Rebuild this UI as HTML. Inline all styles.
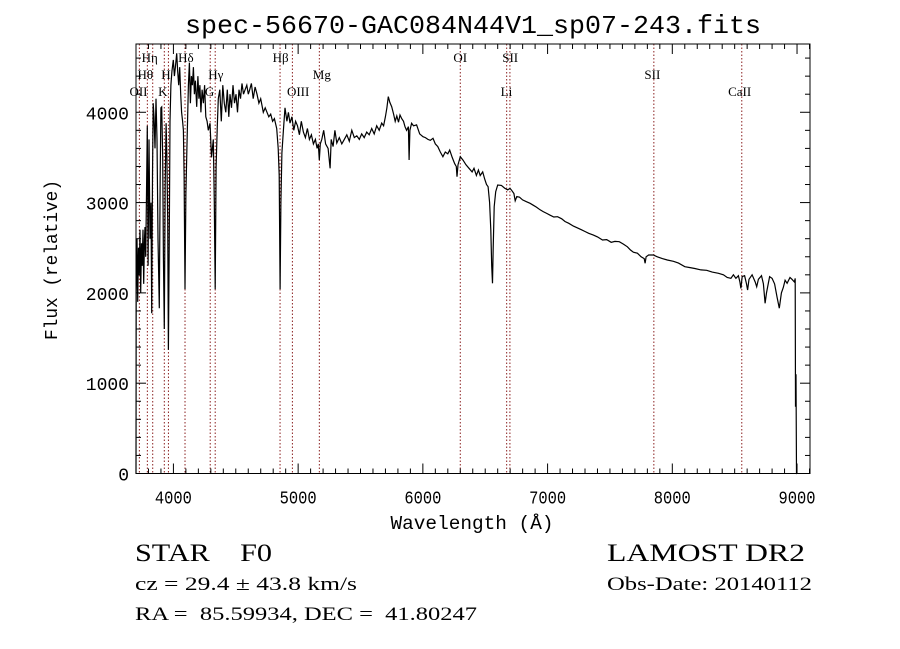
<!DOCTYPE html>
<html><head><meta charset="utf-8"><style>
body{margin:0;background:#fff;width:900px;height:649px;overflow:hidden}
svg{display:block}
</style></head><body>
<svg id="chart" width="900" height="649" xmlns="http://www.w3.org/2000/svg">
<text x="473" y="33" text-anchor="middle" font-family="Liberation Mono, monospace" font-size="26" textLength="576" lengthAdjust="spacingAndGlyphs">spec-56670-GAC084N44V1_sp07-243.fits</text>
<text x="472" y="529" text-anchor="middle" font-family="Liberation Mono, monospace" font-size="19" textLength="163" lengthAdjust="spacingAndGlyphs">Wavelength (Å)</text>
<text transform="translate(57,260) rotate(-90)" text-anchor="middle" font-family="Liberation Mono, monospace" font-size="18" textLength="160" lengthAdjust="spacingAndGlyphs">Flux (relative)</text>
<text x="135" y="561" font-family="Liberation Serif, serif" font-size="25" textLength="137" lengthAdjust="spacingAndGlyphs">STAR&#160;&#160;&#160;&#160;F0</text>
<text x="607" y="561" font-family="Liberation Serif, serif" font-size="25" textLength="198" lengthAdjust="spacingAndGlyphs">LAMOST DR2</text>
<text x="135" y="590" font-family="Liberation Serif, serif" font-size="19" textLength="222" lengthAdjust="spacingAndGlyphs">cz = 29.4 ± 43.8 km/s</text>
<text x="607" y="590" font-family="Liberation Serif, serif" font-size="19" textLength="205" lengthAdjust="spacingAndGlyphs">Obs-Date: 20140112</text>
<text x="135" y="620" font-family="Liberation Serif, serif" font-size="19" textLength="342" lengthAdjust="spacingAndGlyphs">RA =&#160;&#160;85.59934, DEC =&#160;&#160;41.80247</text>
<g id="plot"></g>
</svg>
<script>
const xTicks=[4000,5000,6000,7000,8000,9000];
const yTicks=[0,1000,2000,3000,4000];
const spectrum=[
[3700,0],[3702,2000],[3708,2600],[3714,1900],[3720,2500],[3726,2200],[3732,2700],[3738,2000],[3744,2550],[3750,2300],
[3756,2700],[3762,2100],[3768,2600],[3772,2730],[3778,2400],[3784,3100],[3791,3850],[3797,2300],[3804,3700],[3812,2600],
[3820,3000],[3826,1775],[3832,3300],[3838,4100],[3844,3950],[3852,3600],[3860,4150],[3868,3700],[3876,2600],[3887,1830],
[3894,3300],[3900,4050],[3906,4060],[3914,3500],[3920,2400],[3927,1600],[3934,3200],[3941,3880],[3948,3500],[3954,2800],
[3960,1370],[3966,2500],[3973,3900],[3980,4300],[3988,4450],[3999,4580],[4008,4400],[4016,4500],[4026,4653],[4034,4450],
[4042,4300],[4050,4500],[4058,4200],[4066,4000],[4074,3900],[4080,3800],[4086,3300],[4093,2040],[4100,3100],[4108,3600],
[4120,4300],[4128,4550],[4136,4100],[4144,4400],[4152,4300],[4160,4500],[4168,4200],[4176,4350],[4187,4060],[4196,4400],
[4204,4150],[4212,4300],[4220,4000],[4230,4250],[4240,4100],[4250,4300],[4260,3950],[4270,3900],[4280,3800],[4293,3878],
[4305,3500],[4320,3700],[4328,3000],[4335,2040],[4342,3400],[4352,3850],[4360,4150],[4372,4250],[4384,3900],[4396,4300],
[4408,4100],[4420,4000],[4432,4250],[4444,3950],[4454,4200],[4466,4050],[4478,4300],[4490,4100],[4502,4200],[4514,4000],
[4526,4250],[4538,4150],[4550,4320],[4562,4200],[4575,4250],[4588,4300],[4600,4200],[4612,4250],[4625,4320],[4640,4150],
[4655,4280],[4670,4200],[4685,4100],[4700,4150],[4721,4000],[4736,4050],[4750,4000],[4765,3950],[4780,3980],[4795,3900],
[4810,3930],[4828,3820],[4840,3600],[4848,3300],[4855,2040],[4862,3000],[4870,3550],[4882,3800],[4895,4050],[4910,3900],
[4922,4000],[4935,3880],[4950,3950],[4965,3800],[4980,3900],[4995,3850],[5010,3750],[5025,3900],[5042,3780],[5058,3720],
[5074,3820],[5090,3700],[5106,3750],[5122,3650],[5138,3700],[5152,3600],[5162,3650],[5170,3472],[5178,3650],[5190,3700],
[5205,3800],[5220,3650],[5240,3600],[5256,3380],[5265,3700],[5280,3620],[5295,3800],[5310,3660],[5330,3720],[5350,3650],
[5370,3700],[5390,3750],[5410,3680],[5430,3800],[5450,3720],[5470,3740],[5490,3700],[5510,3760],[5530,3720],[5550,3780],
[5570,3750],[5590,3820],[5610,3760],[5630,3850],[5650,3800],[5670,3880],[5685,3850],[5700,3950],[5712,4050],[5723,4173],
[5735,4110],[5750,4062],[5765,3980],[5778,3900],[5791,3960],[5805,3890],[5817,3970],[5830,3930],[5845,3900],[5857,3840],
[5870,3800],[5884,3840],[5890,3472],[5896,3800],[5910,3878],[5925,3850],[5950,3860],[5975,3760],[6001,3730],[6020,3720],
[6040,3700],[6060,3690],[6081,3712],[6100,3650],[6120,3620],[6140,3560],[6161,3508],[6180,3560],[6200,3540],[6215,3582],
[6235,3500],[6255,3430],[6268,3400],[6274,3287],[6282,3420],[6300,3508],[6322,3470],[6345,3420],[6370,3380],[6395,3340],
[6410,3380],[6429,3300],[6445,3360],[6460,3300],[6480,3340],[6496,3260],[6510,3200],[6523,3176],[6535,3000],[6545,2700],
[6552,2300],[6558,2106],[6564,2500],[6572,2955],[6584,3120],[6600,3195],[6630,3190],[6655,3160],[6680,3140],[6699,3158],
[6715,3130],[6730,3100],[6740,3020],[6753,3066],[6775,3060],[6800,3030],[6830,3010],[6860,2992],[6886,2970],[6910,2950],
[6940,2920],[6965,2900],[6993,2880],[7020,2860],[7050,2840],[7080,2844],[7113,2820],[7140,2790],[7170,2770],[7207,2740],
[7240,2720],[7270,2700],[7300,2680],[7330,2660],[7367,2640],[7400,2620],[7440,2586],[7474,2590],[7510,2560],[7540,2570],
[7575,2567],[7608,2540],[7640,2510],[7665,2475],[7688,2450],[7720,2440],[7750,2400],[7775,2380],[7782,2328],[7790,2400],
[7810,2420],[7848,2420],[7880,2400],[7920,2380],[7960,2364],[8009,2350],[8050,2330],[8100,2290],[8143,2280],[8180,2270],
[8230,2254],[8276,2250],[8320,2230],[8370,2217],[8410,2200],[8440,2170],[8470,2161],[8490,2200],[8510,2161],[8530,2190],
[8542,2120],[8550,2050],[8560,2180],[8580,2190],[8595,2100],[8604,2032],[8615,2150],[8640,2200],[8665,2120],[8677,2069],
[8690,2150],[8715,2190],[8730,2100],[8744,1885],[8755,2000],[8780,2180],[8800,2160],[8820,2100],[8840,1950],[8858,1830],
[8875,2000],[8890,2060],[8904,2140],[8920,2106],[8944,2170],[8960,2150],[8979,2120],[8985,2160],[8988,740],[8992,1100],
[8996,0],[9000,0]];
const wl=spectrum.map(p=>p[0]);
const flux=spectrum.map(p=>p[1]);
const lineWl=[3727,3791,3834,3927,3960,4093,4295,4335,4855,4954,5170,6300,6672,6698,7852,8557];
const labels=["Hη","Hθ","OII","H","K","Hδ","Hγ","G","Hβ","OIII","Mg","OI","SII","Li","SII","CaII"];
const labelWl=[3810,3775,3720,3940,3915,4100,4340,4290,4860,5000,5190,6300,6700,6670,7840,8540];
const labelRow=[0,1,2,1,2,0,1,2,0,2,1,0,0,2,1,2];

const L=136,R=810,T=44,B=473.5,X0=3700,X1=9104,Y0=0,Y1=4756;
const sx=v=>L+(v-X0)/(X1-X0)*(R-L);
const sy=v=>B-(v-Y0)/(Y1-Y0)*(B-T);
const NS="http://www.w3.org/2000/svg";
const g=document.getElementById('plot');
function mk(t,a){const e=document.createElementNS(NS,t);for(const k in a)e.setAttribute(k,a[k]);g.appendChild(e);return e;}

lineWl.forEach((w,i)=>{
  const e=mk('line',{x1:sx(w),x2:sx(w),y1:T,y2:B,stroke:'#8b2020','stroke-width':1,'stroke-dasharray':'1.5,2'});
  
  
});
labels.forEach((s,i)=>{
  const e=mk('text',{x:sx(labelWl[i]),y:T+18+labelRow[i]*17,'text-anchor':'middle','font-family':'Liberation Serif, serif','font-size':13});
  e.textContent=s;
  
  
});

let d='';
wl.forEach((w,i)=>{d+=(i?'L':'M')+sx(w).toFixed(1)+','+sy(flux[i]).toFixed(1);});
const sp=mk('path',{d:d,fill:'none',stroke:'#000','stroke-width':1.2});



const fr=mk('rect',{x:L,y:T,width:R-L,height:B-T,fill:'none',stroke:'#000','stroke-width':1});



for(let v=3800;v<=9100;v+=100){
  const major=v%1000===0, len=major?10:5;
  mk('line',{x1:sx(v),x2:sx(v),y1:B,y2:B-len,stroke:'#000'});
  mk('line',{x1:sx(v),x2:sx(v),y1:T,y2:T+len,stroke:'#000'});
}
for(let v=0;v<=4700;v+=200){
  const major=v%1000===0, len=major?10:5;
  mk('line',{x1:L,x2:L+len,y1:sy(v),y2:sy(v),stroke:'#000'});
  mk('line',{x1:R,x2:R-len,y1:sy(v),y2:sy(v),stroke:'#000'});
}
xTicks.forEach(v=>{
  const e=mk('text',{x:sx(v),y:B+30,'text-anchor':'middle','font-family':'Liberation Mono, monospace','font-size':18,'textLength':37,'lengthAdjust':'spacingAndGlyphs'});
  e.textContent=v;
  
  
});
yTicks.forEach(v=>{
  const e=mk('text',{x:L-7,y:sy(v)+7,'text-anchor':'end','font-family':'Liberation Mono, monospace','font-size':18});
  e.textContent=v;
  
  
});
</script>
</body></html>
